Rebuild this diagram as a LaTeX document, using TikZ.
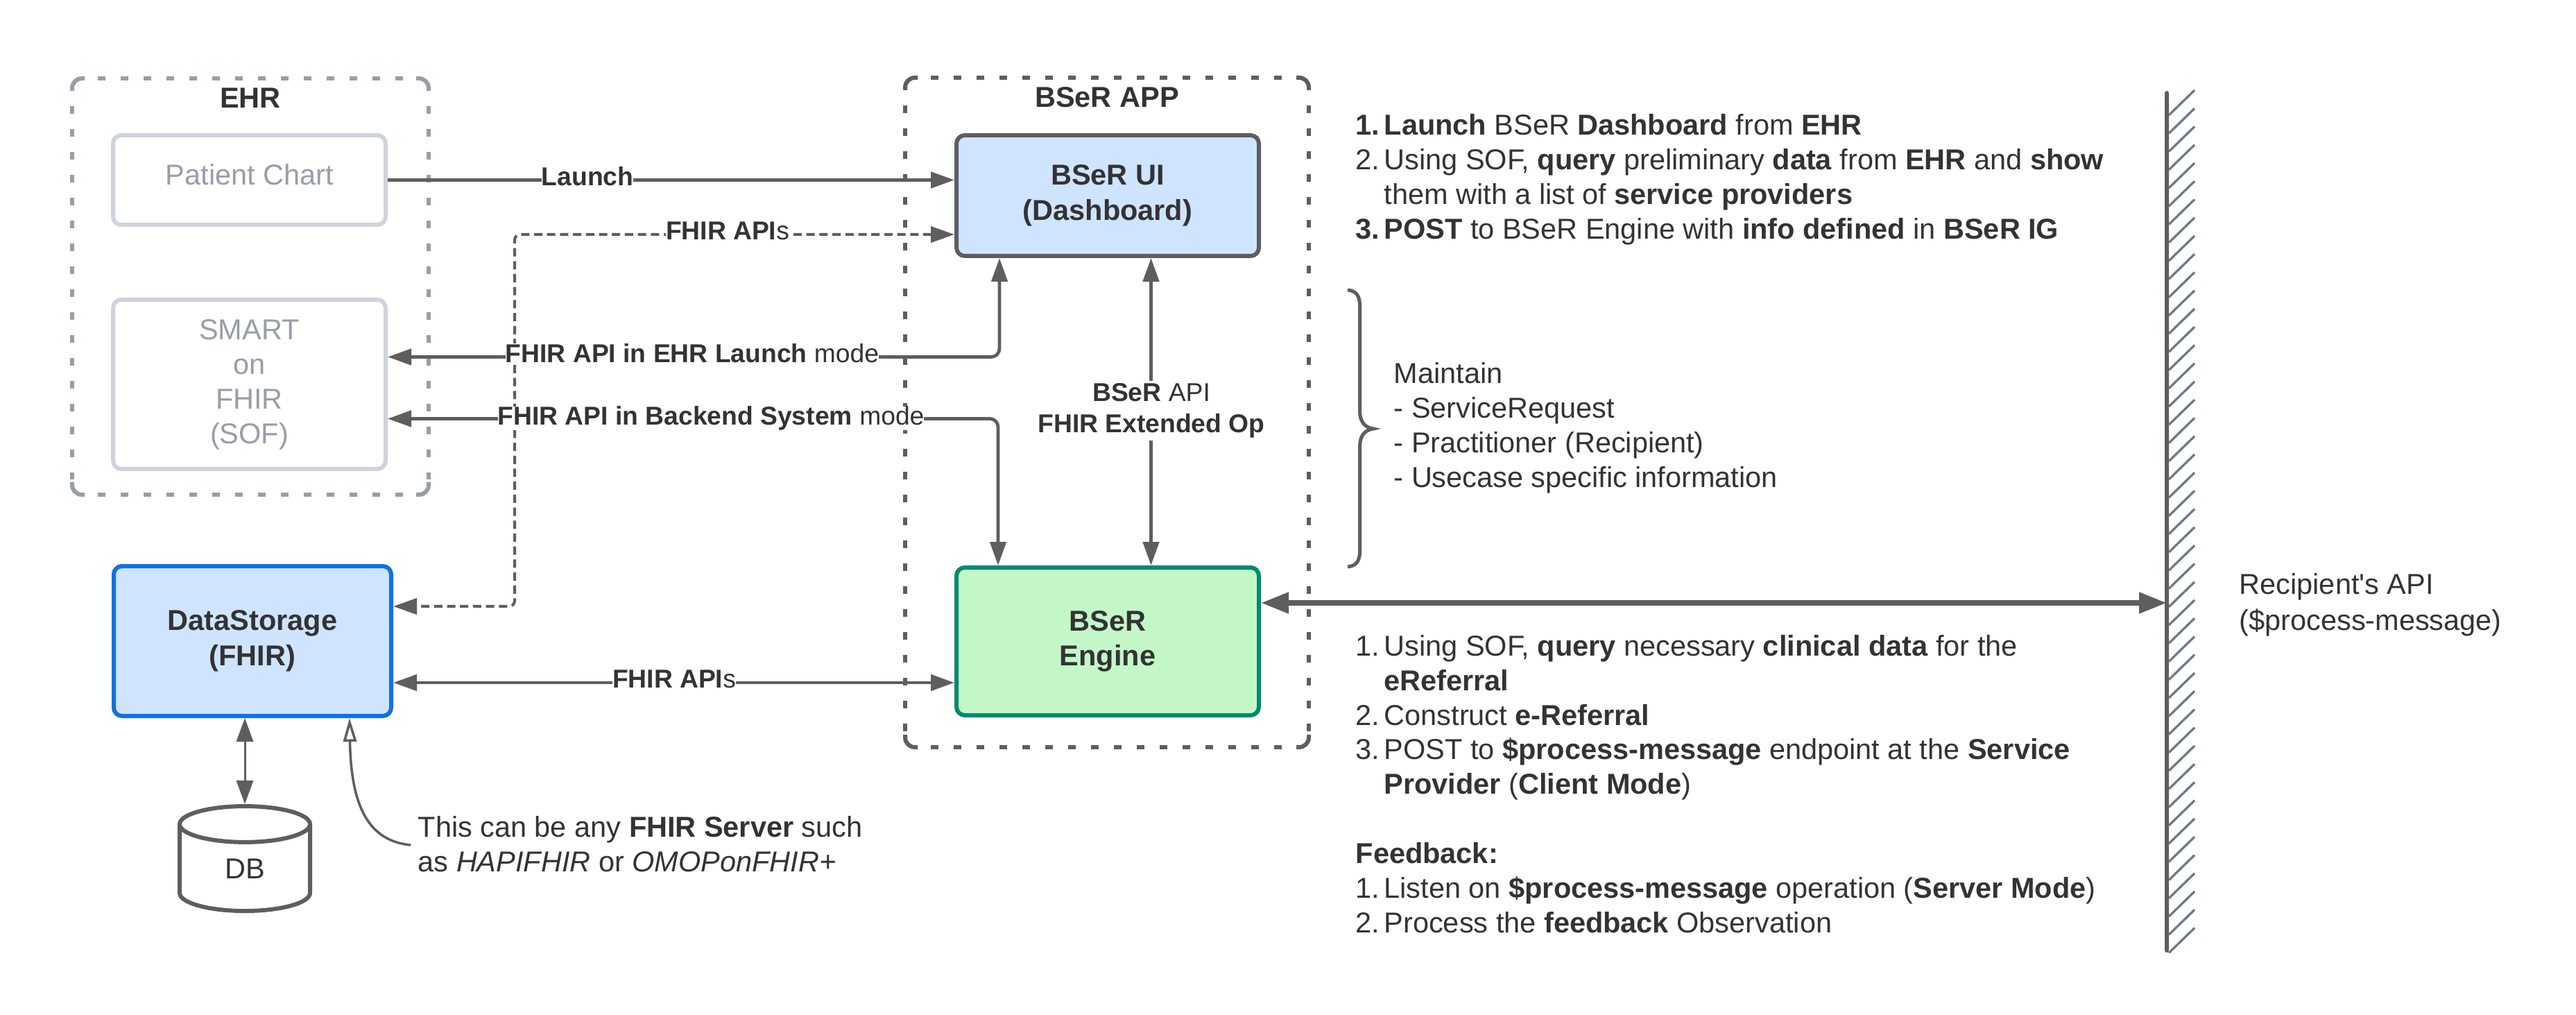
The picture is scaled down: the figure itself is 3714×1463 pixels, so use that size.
\documentclass[tikz,border=0pt]{standalone}
\usepackage{fontspec}
\setmainfont{Liberation Sans}
\newfontfamily\straightfont{Liberation Sans}
\usetikzlibrary{arrows.meta,shapes.geometric,calc}
\definecolor{ink}{HTML}{333333}
\definecolor{stroke}{HTML}{5E5E5E}
\definecolor{mute}{HTML}{979EA8}
\definecolor{pale}{HTML}{CED4DB}
\definecolor{bluefill}{HTML}{CFE4FF}
\definecolor{bluedge}{HTML}{1071E5}
\definecolor{greenfill}{HTML}{C3F7C8}
\definecolor{greenedge}{HTML}{008A6E}
\definecolor{hatchc}{HTML}{6F7A87}
\newcommand{\numcol}[1]{\makebox[4.1mm][l]{#1}}
\newcommand{\indentcol}{\hspace*{4.1mm}}
\newcommand{\framestrokes}[2]{%
  \begin{scope}[draw=#2,line width=.6mm]
  \draw[rounded corners=1.4mm] ($(#1.north west)+(0,18)$) -- (#1.north west) -- ($(#1.north west)+(18,0)$);
  \draw[rounded corners=1.4mm] ($(#1.north east)+(0,18)$) -- (#1.north east) -- ($(#1.north east)+(-18,0)$);
  \draw[rounded corners=1.4mm] ($(#1.south west)+(0,-18)$) -- (#1.south west) -- ($(#1.south west)+(18,0)$);
  \draw[rounded corners=1.4mm] ($(#1.south east)+(0,-18)$) -- (#1.south east) -- ($(#1.south east)+(-18,0)$);
  \draw[dash pattern=on 1.1mm off 2.2mm] ($(#1.north west)+(37,0)$) -- ($(#1.north east)+(-22,0)$);
  \draw[dash pattern=on 1.1mm off 2.2mm] ($(#1.south west)+(37,0)$) -- ($(#1.south east)+(-22,0)$);
  \draw[dash pattern=on 1.1mm off 2.2mm] ($(#1.north west)+(0,40)$) -- ($(#1.south west)+(0,-22)$);
  \draw[dash pattern=on 1.1mm off 2.2mm] ($(#1.north east)+(0,40)$) -- ($(#1.south east)+(0,-22)$);
  \end{scope}}
\tikzset{
  x=0.1mm,y=-0.1mm,
  bodyfont/.style={font=\fontsize{11.8}{14.2}\selectfont},
  labelfont/.style={font=\fontsize{10.6}{12.6}\selectfont},
  frame/.style={minimum width=#1,inner sep=0,outer sep=0},
  box/.style={draw,rounded corners=1.2mm,line width=.6mm,inner sep=0,align=center,text=ink,bodyfont},
  palebox/.style={box,draw=pale,text=mute,minimum width=39.3mm},
  txt/.style={text=ink,bodyfont,inner sep=0,align=left},
  lab/.style={text=ink,labelfont,fill=white,inner sep=0,align=center},
  conn/.style={draw=stroke,line width=.48mm},
  both/.style={{Triangle[length=3.4mm,width=2.3mm]}-{Triangle[length=3.4mm,width=2.3mm]}},
  onehead/.style={-{Triangle[length=3.4mm,width=2.3mm]}},
  dashconn/.style={conn,line width=.4mm,dash pattern=on 1.2mm off .67mm,rounded corners=.8mm},
}
\begin{document}
\begin{tikzpicture}
\useasboundingbox (0,0) rectangle (3714,1463);
\fill[white] (0,0) rectangle (3714,1463);

% frames
\node[frame=51.4mm,minimum height=60mm] (ehr) at (361,413) {};
\node[frame=58.2mm,minimum height=96.5mm] (app) at (1596,594.5) {};
\framestrokes{ehr}{mute}
\framestrokes{app}{stroke}
\node[txt,font=\bfseries\fontsize{11.8}{14.2}\selectfont] (ehrtitle) at (361,141) {EHR};
\node[txt,font=\bfseries\fontsize{11.8}{14.2}\selectfont] (apptitle) at (1596,140) {BSeR APP};

% boxes
\node[palebox,minimum height=12.9mm] (chart) at (359.5,259.5) {};
\node[text=mute,bodyfont,inner sep=0] (charttext) at (360,252) {Patient Chart};
\node[palebox,minimum height=24.4mm] (smart) at (359.5,554) {SMART\\on\\FHIR\\(SOF)};
\node[box,draw=stroke,fill=bluefill,minimum width=43.6mm,minimum height=17.4mm,font=\bfseries\fontsize{11.8}{14.4}\selectfont] (ui) at (1597,282) {BSeR UI\\(Dashboard)};
\node[box,draw=greenedge,fill=greenfill,minimum width=43.6mm,minimum height=21.3mm,font=\bfseries\fontsize{11.8}{14.4}\selectfont] (engine) at (1597,924.5) {BSeR\\Engine};
\node[box,draw=bluedge,fill=bluefill,minimum width=40mm,minimum height=21.6mm,font=\bfseries\fontsize{11.8}{14.4}\selectfont] (data) at (364,924) {DataStorage\\(FHIR)};
\node[cylinder,shape border rotate=90,aspect=.9,draw=stroke,line width=.6mm,minimum width=18.8mm,minimum height=15.1mm,inner sep=0,text=ink,bodyfont] (db) at (353,1252) {DB};

% wall
\foreach \k in {0,...,46}{
  \draw[hatchc,line width=.33mm] (3127,166+26.25*\k) -- (3164,130+26.25*\k);
}
\node[fill=stroke,inner sep=0,minimum width=.6mm,minimum height=124.2mm,rounded corners=.3mm] (wall) at (3124,752) {};

% connectors
\draw[conn,onehead] (chart.east) -- (chart.east -| ui.west);
\draw[dashconn,both] (ui.west |- 0,338) -- (742,338) -- (742,874) -- (data.east |- 0,874);
\draw[conn,both,rounded corners=1.2mm] (smart.east |- 0,514.5) -- (1441,514.5) -- (1441,450) -- (1441,0 |- ui.south);
\draw[conn,both,rounded corners=1.2mm] (smart.east |- 0,603.5) -- (1439,603.5) -- (1439,0 |- engine.north);
\draw[conn,both] (1659.5,0 |- ui.south) -- (1659.5,0 |- engine.north);
\draw[conn,both] (data.east |- 0,984) -- (engine.west |- 0,984);
\draw[conn,line width=.3mm,{Triangle[length=3.4mm,width=2.4mm]}-{Triangle[length=3.4mm,width=2.4mm]}] (db.top |- data.south) -- (db.top);
\draw[draw=stroke,line width=.8mm,{Triangle[length=4mm,width=2.9mm]}-{Triangle[length=4mm,width=2.9mm]}] (engine.east |- 0,869) -- (wall.center |- 0,869);

% note and curved pointer
\node[txt,anchor=west] (note) at (602,1217) {This can be any \textbf{FHIR Server} such\\as \textit{HAPIFHIR} or \textit{OMOPonFHIR+}};
\draw[conn,line width=.35mm,-{Triangle[open,fill=white,length=3.4mm,width=1.9mm]}] ($(note.west)+(-10,1)$) .. controls (530,1212) and (506,1160) .. (504,0 |- data.south);

% connector labels
\node[lab,font=\bfseries\fontsize{10.6}{12.6}\selectfont] (l1) at (847,254) {Launch};
\node[lab] (l2) at (1049,333) {\textbf{FHIR API}s};
\node[lab] (l3) at (998,509) {\textbf{FHIR API in EHR Launch} mode};
\node[lab] (l4) at (1025,603) {\textbf{FHIR API in Backend System} mode};
\node[lab] (l5) at (972,979) {\textbf{FHIR API}s};
\node[lab,inner ysep=.4mm] (l6) at (1660,592) {\textbf{BSeR} API\\\textbf{FHIR Extended Op}};

% brace
\draw[draw=stroke,line width=.5mm] (1943,418) .. controls (1953,419) and (1960.5,424) .. (1960.5,440) -- (1960.5,592) .. controls (1960.5,606) and (1966,616) .. (1980,618) .. controls (1966,620) and (1960.5,630) .. (1960.5,644) -- (1960.5,795) .. controls (1960.5,811) and (1953,816) .. (1943,817);

% texts
\node[txt,anchor=west] (steps) at (1954,259) {\numcol{\textbf{1.}}\textbf{Launch} BSeR \textbf{Dashboard} from \textbf{EHR}\\
\numcol{2.}Using SOF, \textbf{query} preliminary \textbf{data} from \textbf{EHR} and \textbf{show}\\
\indentcol them with a list of \textbf{service providers}\\
\numcol{\textbf{3.}}\textbf{POST} to BSeR Engine with \textbf{info defined} in \textbf{BSeR IG}};
\node[txt,anchor=west] (maintain) at (2009,617) {Maintain\\- ServiceRequest\\- Practitioner (Recipient)\\- Usecase specific information};
\node[txt,anchor=west] (engsteps) at (1954,1130) {\numcol{1.}Using SOF, \textbf{query} necessary \textbf{clinical data} for the\\
\indentcol\textbf{eReferral}\\
\numcol{2.}Construct \textbf{e-Referral}\\
\numcol{3.}POST to \textbf{\$process-message} endpoint at the \textbf{Service}\\
\indentcol\textbf{Provider} (\textbf{Client Mode})\\
\mbox{}\\
\textbf{Feedback:}\\
\numcol{1.}Listen on \textbf{\$process-message} operation (\textbf{Server Mode})\\
\numcol{2.}Process the \textbf{feedback} Observation};
\node[txt,anchor=west,font=\fontsize{11.8}{14.8}\selectfont] (recipient) at (3228,872) {Recipient{\straightfont'}s API\\(\$process-message)};
\end{tikzpicture}
\end{document}
